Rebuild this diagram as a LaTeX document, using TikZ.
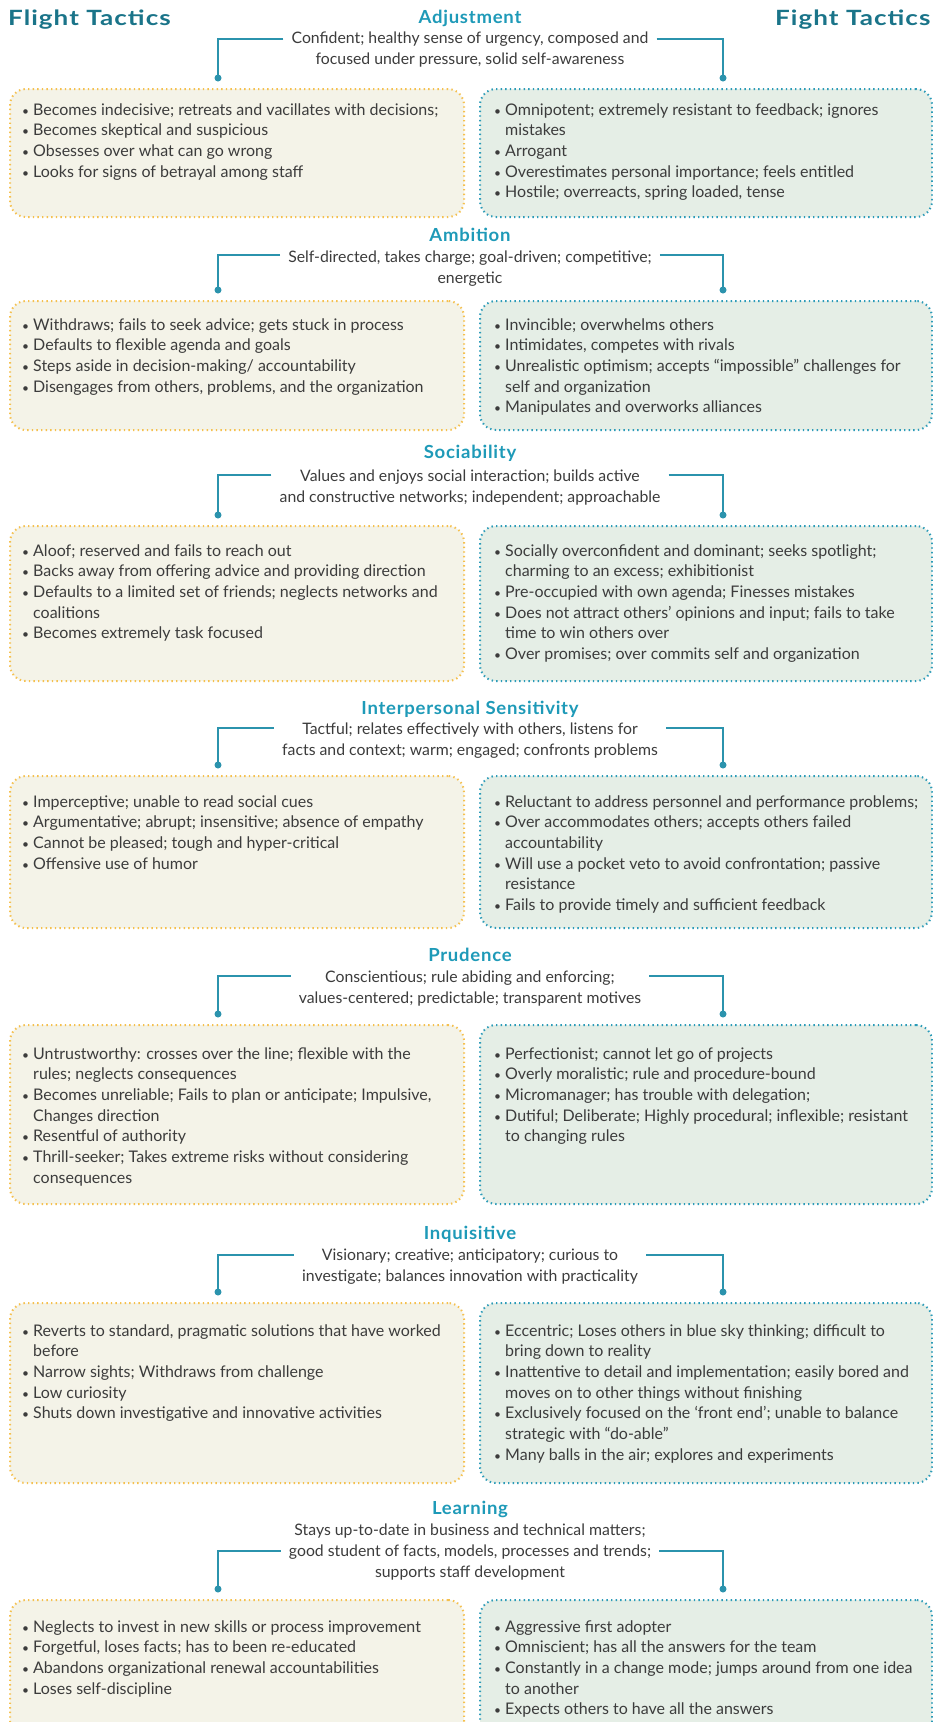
\documentclass[tikz,border=0pt]{standalone}
\usepackage{fontspec}
\setmainfont{Lato}
\usetikzlibrary{calc}
\definecolor{headcol}{HTML}{1E9AB8}
\definecolor{titlecol}{HTML}{1A7489}
\definecolor{conncol}{HTML}{2B93AD}
\definecolor{txtcol}{HTML}{3C3C3C}
\definecolor{lfill}{HTML}{F4F3E8}
\definecolor{lborder}{HTML}{F5C04E}
\definecolor{rfill}{HTML}{E5EEE6}
\definecolor{rborder}{HTML}{2B9BB8}
\newcommand\blist[1]{\fontsize{16}{20.7}\selectfont\begin{tabular}[t]{@{}p{11pt}@{}l@{}}#1\end{tabular}}
\newcommand\bi{\scalebox{0.75}{\textbullet}&}
\newcommand\headtxt[1]{\scalebox{1.03}[1]{\addfontfeature{LetterSpace=4}#1}}
\newcommand\titletxt[1]{\scalebox{1.24}[1]{\addfontfeature{LetterSpace=4}#1}}
\newcommand\sect[8]{%
  \node[head, anchor=base] (h#1) at (470,#3) {\headtxt{#2}};
  \node[desc, anchor=base] (d#1) at (470,#4) {\begin{tabular}[t]{@{}c@{}}#5\end{tabular}};
  \coordinate (y#1) at (470,#6);
  \coordinate (a#1L) at ([xshift=-8pt]d#1.west |- y#1);
  \coordinate (a#1R) at ([xshift=8pt]d#1.east |- y#1);
  \node[leftbox, anchor=north west, minimum width=454pt, minimum height={#8-#7}] (l#1) at (9,#7) {};
  \node[rightbox, anchor=north west, minimum width=452pt, minimum height={#8-#7}] (r#1) at (479,#7) {};
  \node[dotc] (p#1L) at (218,#7-10) {};
  \node[dotc] (p#1R) at (723,#7-10) {};
  \draw[conn] (a#1L) -| (p#1L.center);
  \draw[conn] (a#1R) -| (p#1R.center);
}
\begin{document}
\begin{tikzpicture}[x=1pt,y=-1pt,
  leftbox/.style={draw=lborder, fill=lfill, line width=2pt, dash pattern=on 1.4pt off 3.2pt, rounded corners=16pt, inner sep=0},
  rightbox/.style={draw=rborder, fill=rfill, line width=2pt, dash pattern=on 1.4pt off 3.2pt, rounded corners=16pt, inner sep=0},
  conn/.style={draw=conncol, line width=1.4pt},
  dotc/.style={fill=conncol, circle, inner sep=0, minimum size=7pt},
  head/.style={font=\bfseries\fontsize{18}{21}\selectfont, text=headcol, inner sep=0},
  desc/.style={font=\fontsize{15.8}{21}\selectfont, text=txtcol, inner sep=0},
  body/.style={text=txtcol, inner sep=0, anchor=base west},
  title/.style={font=\bfseries\fontsize{21}{25}\selectfont, text=titlecol, inner sep=0, anchor=base west}]
\useasboundingbox (0,0) rectangle (933,1722);
\fill[white] (0,0) rectangle (933,1722);

\node[title] (tl) at (8,25) {\titletxt{Flight Tactics}};
\node[title] (tr) at (775,25) {\titletxt{Fight Tactics}};

% 1 Adjustment
\sect{1}{Adjustment}{23}{43.4}{Confident; healthy sense of urgency, composed and\\focused under pressure, solid self-awareness}{39}{88}{216}
\node[body] (l1t) at (22,115) {\blist{
\bi Becomes indecisive; retreats and vacillates with decisions;\\
\bi Becomes skeptical and suspicious\\
\bi Obsesses over what can go wrong\\
\bi Looks for signs of betrayal among staff}};
\node[body] (r1t) at (494,115) {\blist{
\bi Omnipotent; extremely resistant to feedback; ignores\\
& mistakes\\
\bi Arrogant\\
\bi Overestimates personal importance; feels entitled\\
\bi Hostile; overreacts, spring loaded, tense}};

% 2 Ambition
\sect{2}{Ambition}{241.5}{262}{Self-directed, takes charge; goal-driven; competitive;\\energetic}{255}{300}{429}
\node[body] (l2t) at (22,330) {\blist{
\bi Withdraws; fails to seek advice; gets stuck in process\\
\bi Defaults to flexible agenda and goals\\
\bi Steps aside in decision-making/ accountability\\
\bi Disengages from others, problems, and the organization}};
\node[body] (r2t) at (494,330) {\blist{
\bi Invincible; overwhelms others\\
\bi Intimidates, competes with rivals\\
\bi Unrealistic optimism; accepts “impossible” challenges for\\
& self and organization\\
\bi Manipulates and overworks alliances}};

% 3 Sociability
\sect{3}{Sociability}{458.5}{481}{Values and enjoys social interaction; builds active\\and constructive networks; independent; approachable}{475}{525}{680}
\node[body] (l3t) at (22,556) {\blist{
\bi Aloof; reserved and fails to reach out\\
\bi Backs away from offering advice and providing direction\\
\bi Defaults to a limited set of friends; neglects networks and\\
& coalitions\\
\bi Becomes extremely task focused}};
\node[body] (r3t) at (494,556) {\blist{
\bi Socially overconfident and dominant; seeks spotlight;\\
& charming to an excess; exhibitionist\\
\bi Pre-occupied with own agenda; Finesses mistakes\\
\bi Does not attract others’ opinions and input; fails to take\\
& time to win others over\\
\bi Over promises; over commits self and organization}};

% 4 Interpersonal Sensitivity
\sect{4}{Interpersonal Sensitivity}{714.5}{734}{Tactful; relates effectively with others, listens for\\facts and context; warm; engaged; confronts problems}{728}{775}{927}
\node[body] (l4t) at (22,807) {\blist{
\bi Imperceptive; unable to read social cues\\
\bi Argumentative; abrupt; insensitive; absence of empathy\\
\bi Cannot be pleased; tough and hyper-critical\\
\bi Offensive use of humor}};
\node[body] (r4t) at (494,807) {\blist{
\bi Reluctant to address personnel and performance problems;\\
\bi Over accommodates others; accepts others failed\\
& accountability\\
\bi Will use a pocket veto to avoid confrontation; passive\\
& resistance\\
\bi Fails to provide timely and sufficient feedback}};

% 5 Prudence
\sect{5}{Prudence}{961.5}{982}{Conscientious; rule abiding and enforcing;\\values-centered; predictable; transparent motives}{976}{1024}{1203}
\node[body] (l5t) at (22,1059) {\blist{
\bi Untrustworthy: crosses over the line; flexible with the\\
& rules; neglects consequences\\
\bi Becomes unreliable; Fails to plan or anticipate; Impulsive,\\
& Changes direction\\
\bi Resentful of authority\\
\bi Thrill-seeker; Takes extreme risks without considering\\
& consequences}};
\node[body] (r5t) at (494,1059) {\blist{
\bi Perfectionist; cannot let go of projects\\
\bi Overly moralistic; rule and procedure-bound\\
\bi Micromanager; has trouble with delegation;\\
\bi Dutiful; Deliberate; Highly procedural; inflexible; resistant\\
& to changing rules}};

% 6 Inquisitive
\sect{6}{Inquisitive}{1239.5}{1260}{Visionary; creative; anticipatory; curious to\\investigate; balances innovation with practicality}{1255}{1302}{1482}
\node[body] (l6t) at (22,1336) {\blist{
\bi Reverts to standard, pragmatic solutions that have worked\\
& before\\
\bi Narrow sights; Withdraws from challenge\\
\bi Low curiosity\\
\bi Shuts down investigative and innovative activities}};
\node[body] (r6t) at (494,1336) {\blist{
\bi Eccentric; Loses others in blue sky thinking; difficult to\\
& bring down to reality\\
\bi Inattentive to detail and implementation; easily bored and\\
& moves on to other things without finishing\\
\bi Exclusively focused on the ‘front end’; unable to balance\\
& strategic with “do-able”\\
\bi Many balls in the air; explores and experiments}};

% 7 Learning
\sect{7}{Learning}{1514.5}{1535}{Stays up-to-date in business and technical matters;\\good student of facts, models, processes and trends;\\supports staff development}{1551}{1599}{1760}
\node[body] (l7t) at (22,1632) {\blist{
\bi Neglects to invest in new skills or process improvement\\
\bi Forgetful, loses facts; has to been re-educated\\
\bi Abandons organizational renewal accountabilities\\
\bi Loses self-discipline}};
\node[body] (r7t) at (494,1632) {\blist{
\bi Aggressive first adopter\\
\bi Omniscient; has all the answers for the team\\
\bi Constantly in a change mode; jumps around from one idea\\
& to another\\
\bi Expects others to have all the answers}};
\end{tikzpicture}
\end{document}
